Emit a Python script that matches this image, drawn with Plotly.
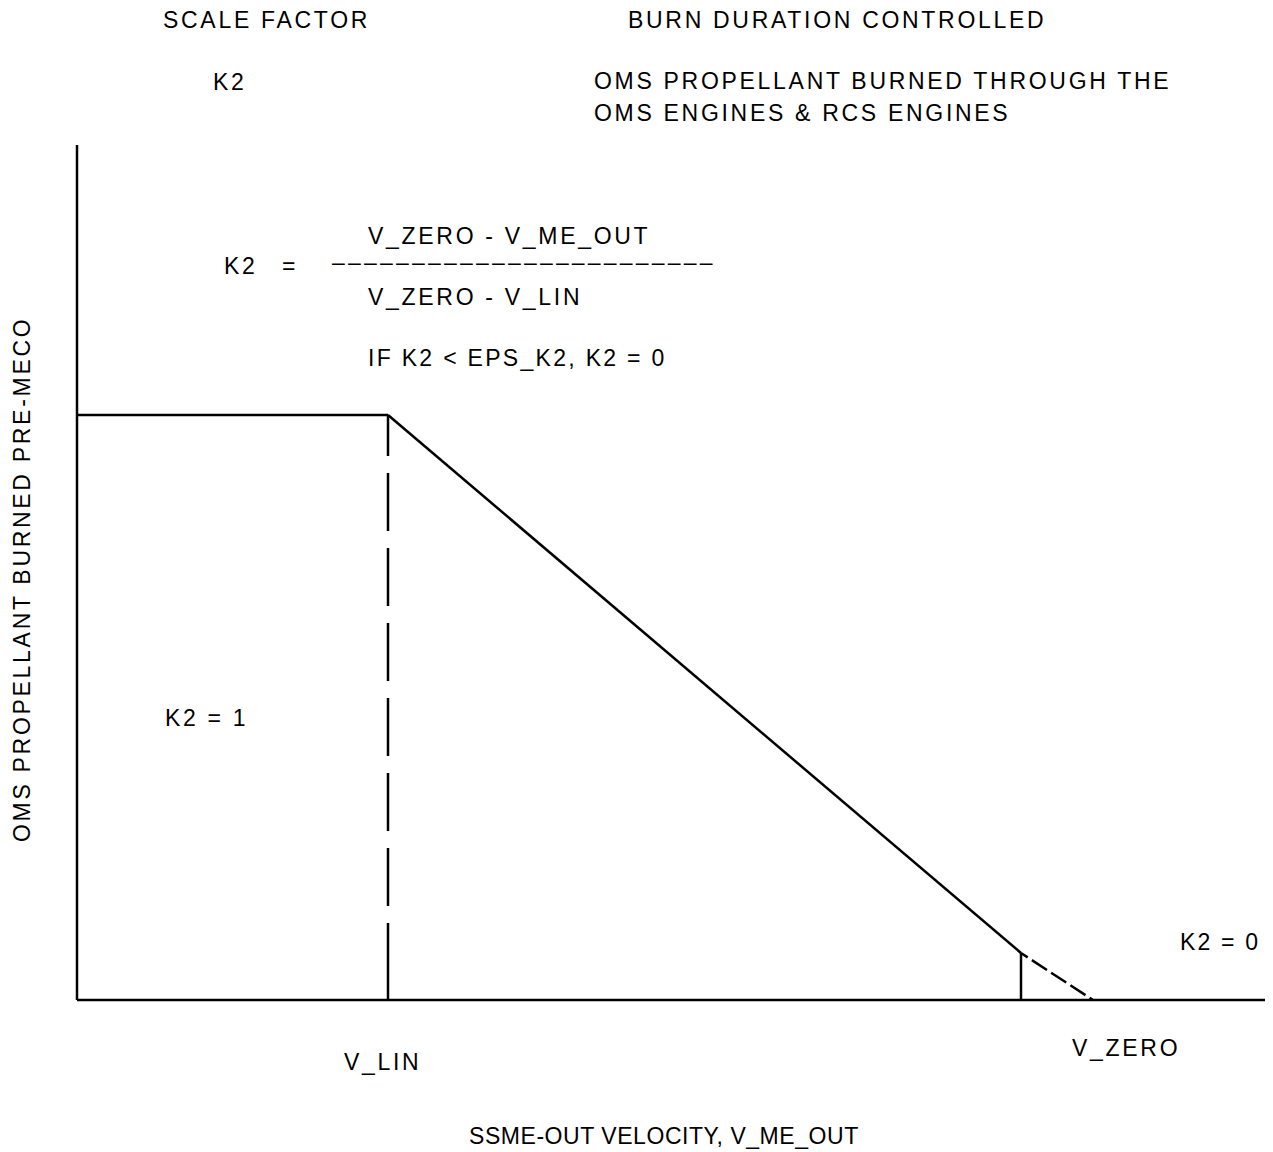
import plotly.graph_objects as go

# Data (velocity units along x, propellant units along y)
axis_x_end = 1193
axis_y_top = 855
v_lin = 311
v_cut = 944
v_zero = 1016
k2_full = 585
k2_cut = 47

plateau_x = [0, v_lin]
plateau_y = [k2_full, k2_full]
ramp_x = [v_lin, v_cut]
ramp_y = [k2_full, k2_cut]
tail_x = [v_cut, v_zero]
tail_y = [k2_cut, 0]

FONT = "Liberation Sans, Arial"
LS = "2.7px"
FS = 23

LIN_DASH = "41px,17px," + "58px,17px," * 6 + "90px,20px"
TAIL_DASH = "8px,5px," + "18px,5px," * 3 + "12px,10px"

fig = go.Figure()
line = dict(color="black", width=2.5)
fig.add_trace(go.Scatter(x=[0, 0], y=[axis_y_top, 0], mode="lines", line=line))
fig.add_trace(go.Scatter(x=[0, axis_x_end], y=[0, 0], mode="lines", line=line))
fig.add_trace(go.Scatter(x=plateau_x, y=plateau_y, mode="lines", line=line))
fig.add_trace(go.Scatter(x=ramp_x, y=ramp_y, mode="lines", line=line))
fig.add_trace(go.Scatter(x=tail_x, y=tail_y, mode="lines",
                         line=dict(color="black", width=2.5, dash=TAIL_DASH)))
fig.add_trace(go.Scatter(x=[v_lin, v_lin], y=[k2_full, 0], mode="lines",
                         line=dict(color="black", width=2.5, dash=LIN_DASH)))
fig.add_trace(go.Scatter(x=[v_cut, v_cut], y=[k2_cut, 0], mode="lines", line=line))

W, H = 1273, 1152
OFF = 8           # page body margin
X0, Y0 = 77, 1000  # page pixel of origin


def ann(text, px, py, size=FS, anchor="left", angle=0, ls=LS):
    fig.add_annotation(
        x=px - X0, y=Y0 - py, xref="x", yref="y",
        text=f'<span style="letter-spacing:{ls}">{text}</span>',
        showarrow=False, xanchor=anchor, yanchor="middle", textangle=angle,
        font=dict(family=FONT, size=size, color="black"))


ann("SCALE FACTOR", 161, 20)
ann("BURN DURATION CONTROLLED", 626, 20)
ann("K2", 211, 82)
ann("OMS PROPELLANT BURNED THROUGH THE", 592, 81)
ann("OMS ENGINES &amp; RCS ENGINES", 592, 113)
ann("V_ZERO - V_ME_OUT", 366, 236)
ann("K2", 222, 266)
ann("=", 280, 266)
ann("–" * 24, 330, 262, ls="3.2px")
ann("V_ZERO - V_LIN", 366, 297)
ann("IF K2 &lt; EPS_K2, K2 = 0", 366, 358, ls="2.3px")
ann("K2 = 1", 163, 718)
ann("K2 = 0", 1178, 942, ls="2.2px")
ann("V_LIN", 342, 1062)
ann("V_ZERO", 1070, 1048)
ann("SSME-OUT VELOCITY, V_ME_OUT", 467, 1136, ls="0.55px")
ann("OMS PROPELLANT BURNED PRE-MECO", 22, 580, anchor="center", angle=-90)

fig.update_layout(
    width=W, height=H, showlegend=False,
    margin=dict(l=0, r=0, t=0, b=0),
    paper_bgcolor="white", plot_bgcolor="white",
    xaxis=dict(range=[OFF - X0, W + OFF - X0], visible=False, fixedrange=True),
    yaxis=dict(range=[Y0 - OFF - H, Y0 - OFF], visible=False, fixedrange=True),
)
fig.write_html("out.html")
